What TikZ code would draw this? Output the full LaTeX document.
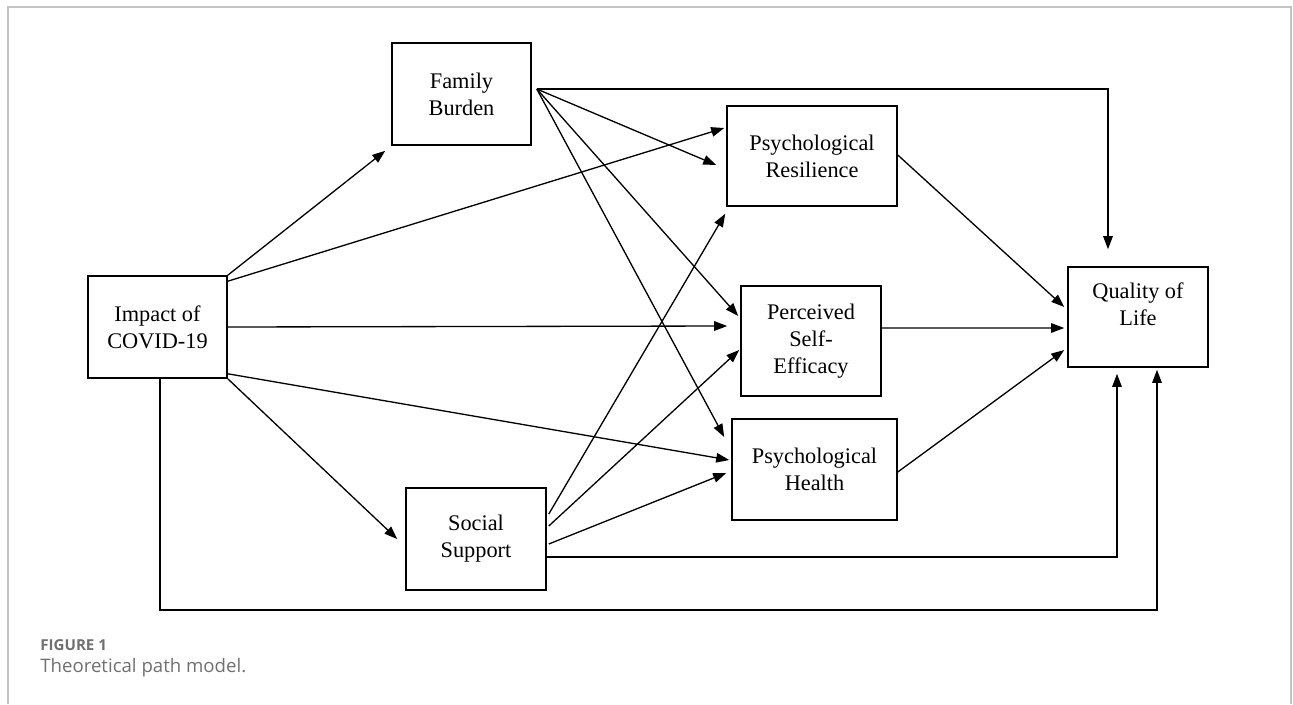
\documentclass[tikz,border=0pt]{standalone}
\usepackage{fontspec}
\setmainfont{Liberation Serif}
\newfontfamily\capfont{Open Sans}
\usetikzlibrary{arrows.meta}
\definecolor{framegray}{HTML}{C4C4C4}
\definecolor{capgray}{HTML}{707070}

\begin{document}
\begin{tikzpicture}[box/.style={draw, line width=0.9pt, align=center, inner sep=0pt, font=\fontsize{12.7}{15.3}\selectfont},
    path/.style={line width=0.75pt, -{Triangle[length=0.26cm, width=0.19cm]}}]

    \useasboundingbox (0,0) rectangle (25.86,-14.08);
    \draw[framegray, line width=1pt] (0.16,-14.08) -- (0.16,-0.14) -- (25.82,-0.14) -- (25.82,-14.08);

    % Boxes
    \node at (9.23, -1.88) [box, minimum width=2.78cm, minimum height=2.04cm] (fb) {Family\\Burden};
    \node at (16.24, -3.12) [box, minimum width=3.4cm, minimum height=2cm] (pr) {Psychological\\Resilience};
    \node at (3.15, -6.54) [box, minimum width=2.78cm, minimum height=2.04cm] (imp) {Impact of\\COVID-19};
    \node at (16.22, -6.82) [box, minimum width=2.8cm, minimum height=2.2cm] (pse) {Perceived\\Self-\\Efficacy};
    \node at (22.76, -6.34) [box, minimum width=2.8cm, minimum height=2cm] (qol) {Quality of\\Life\\[-5.6pt]\strut};
    \node at (16.29, -9.39) [box, minimum width=3.3cm, minimum height=2.02cm] (ph) {Psychological\\Health};
    \node at (9.52, -10.78) [box, minimum width=2.8cm, minimum height=2.04cm] (ss) {Social\\Support};

    \coordinate (lowrun) at (0, -12.2);

    % Impact of COVID-19
    \draw[path] (imp.north east) -- ([shift={(-0.12,-0.1)}] fb.south west);
    \draw[path] ([yshift=-0.12cm] imp.north east) -- ([shift={(-0.04,0.56)}] pr.west);
    \draw[path] (imp.east) -- ([shift={(-0.26,0.3)}] pse.west);
    \draw[path] ([yshift=0.1cm] imp.south east) -- ([shift={(-0.04,0.19)}] ph.west);
    \draw[path] (imp.south east) -- ([xshift=-0.16cm] ss.west);
    \draw[path] ([xshift=0.05cm] imp.south) -- ([xshift=0.05cm] imp.south |- lowrun) -| ([shift={(0.38,-0.04)}] qol.south);

    % Family Burden
    \draw[path] ([shift={(0.1,0.1)}] fb.east) -| ([shift={(-0.6,0.34)}] qol.north);
    \draw[path] ([shift={(0.1,0.1)}] fb.east) -- ([shift={(-0.2,-0.18)}] pr.west);
    \draw[path] ([shift={(0.1,0.1)}] fb.east) -- ([shift={(-0.04,0.5)}] pse.west);
    \draw[path] ([shift={(0.1,0.1)}] fb.east) -- ([shift={(-0.14,0.65)}] ph.west);

    % Social Support
    \draw[path] ([shift={(0.04,0.5)}] ss.east) -- ([shift={(-0.02,-0.14)}] pr.south west);
    \draw[path] ([shift={(0.04,0.26)}] ss.east) -- ([shift={(-0.02,-0.18)}] pse.west);
    \draw[path] ([shift={(0.04,-0.1)}] ss.east) -- ([shift={(-0.1,-0.07)}] ph.west);
    \draw[path] ([yshift=-0.36cm] ss.east) -| ([shift={(-0.42,-0.12)}] qol.south);

    % Mediators
    \draw[path] ([yshift=0.02cm] pr.east) -- ([shift={(-0.06,0.2)}] qol.west);
    \draw[path] ([yshift=0.26cm] pse.east) -- ([shift={(-0.06,-0.22)}] qol.west);
    \draw[path] ([yshift=-0.05cm] ph.east) -- ([shift={(-0.06,-0.66)}] qol.west);

    % Caption
    \node[anchor=west, inner sep=0pt, text=capgray, font=\capfont\bfseries\fontsize{8.6}{10}\selectfont] (capnum) at (0.8, -12.9) {FIGURE 1};
    \node[anchor=west, inner sep=0pt, text=capgray, font=\capfont\fontsize{10.6}{12}\selectfont] (captext) at (0.8, -13.36) {Theoretical path model.};

\end{tikzpicture}
\end{document}
